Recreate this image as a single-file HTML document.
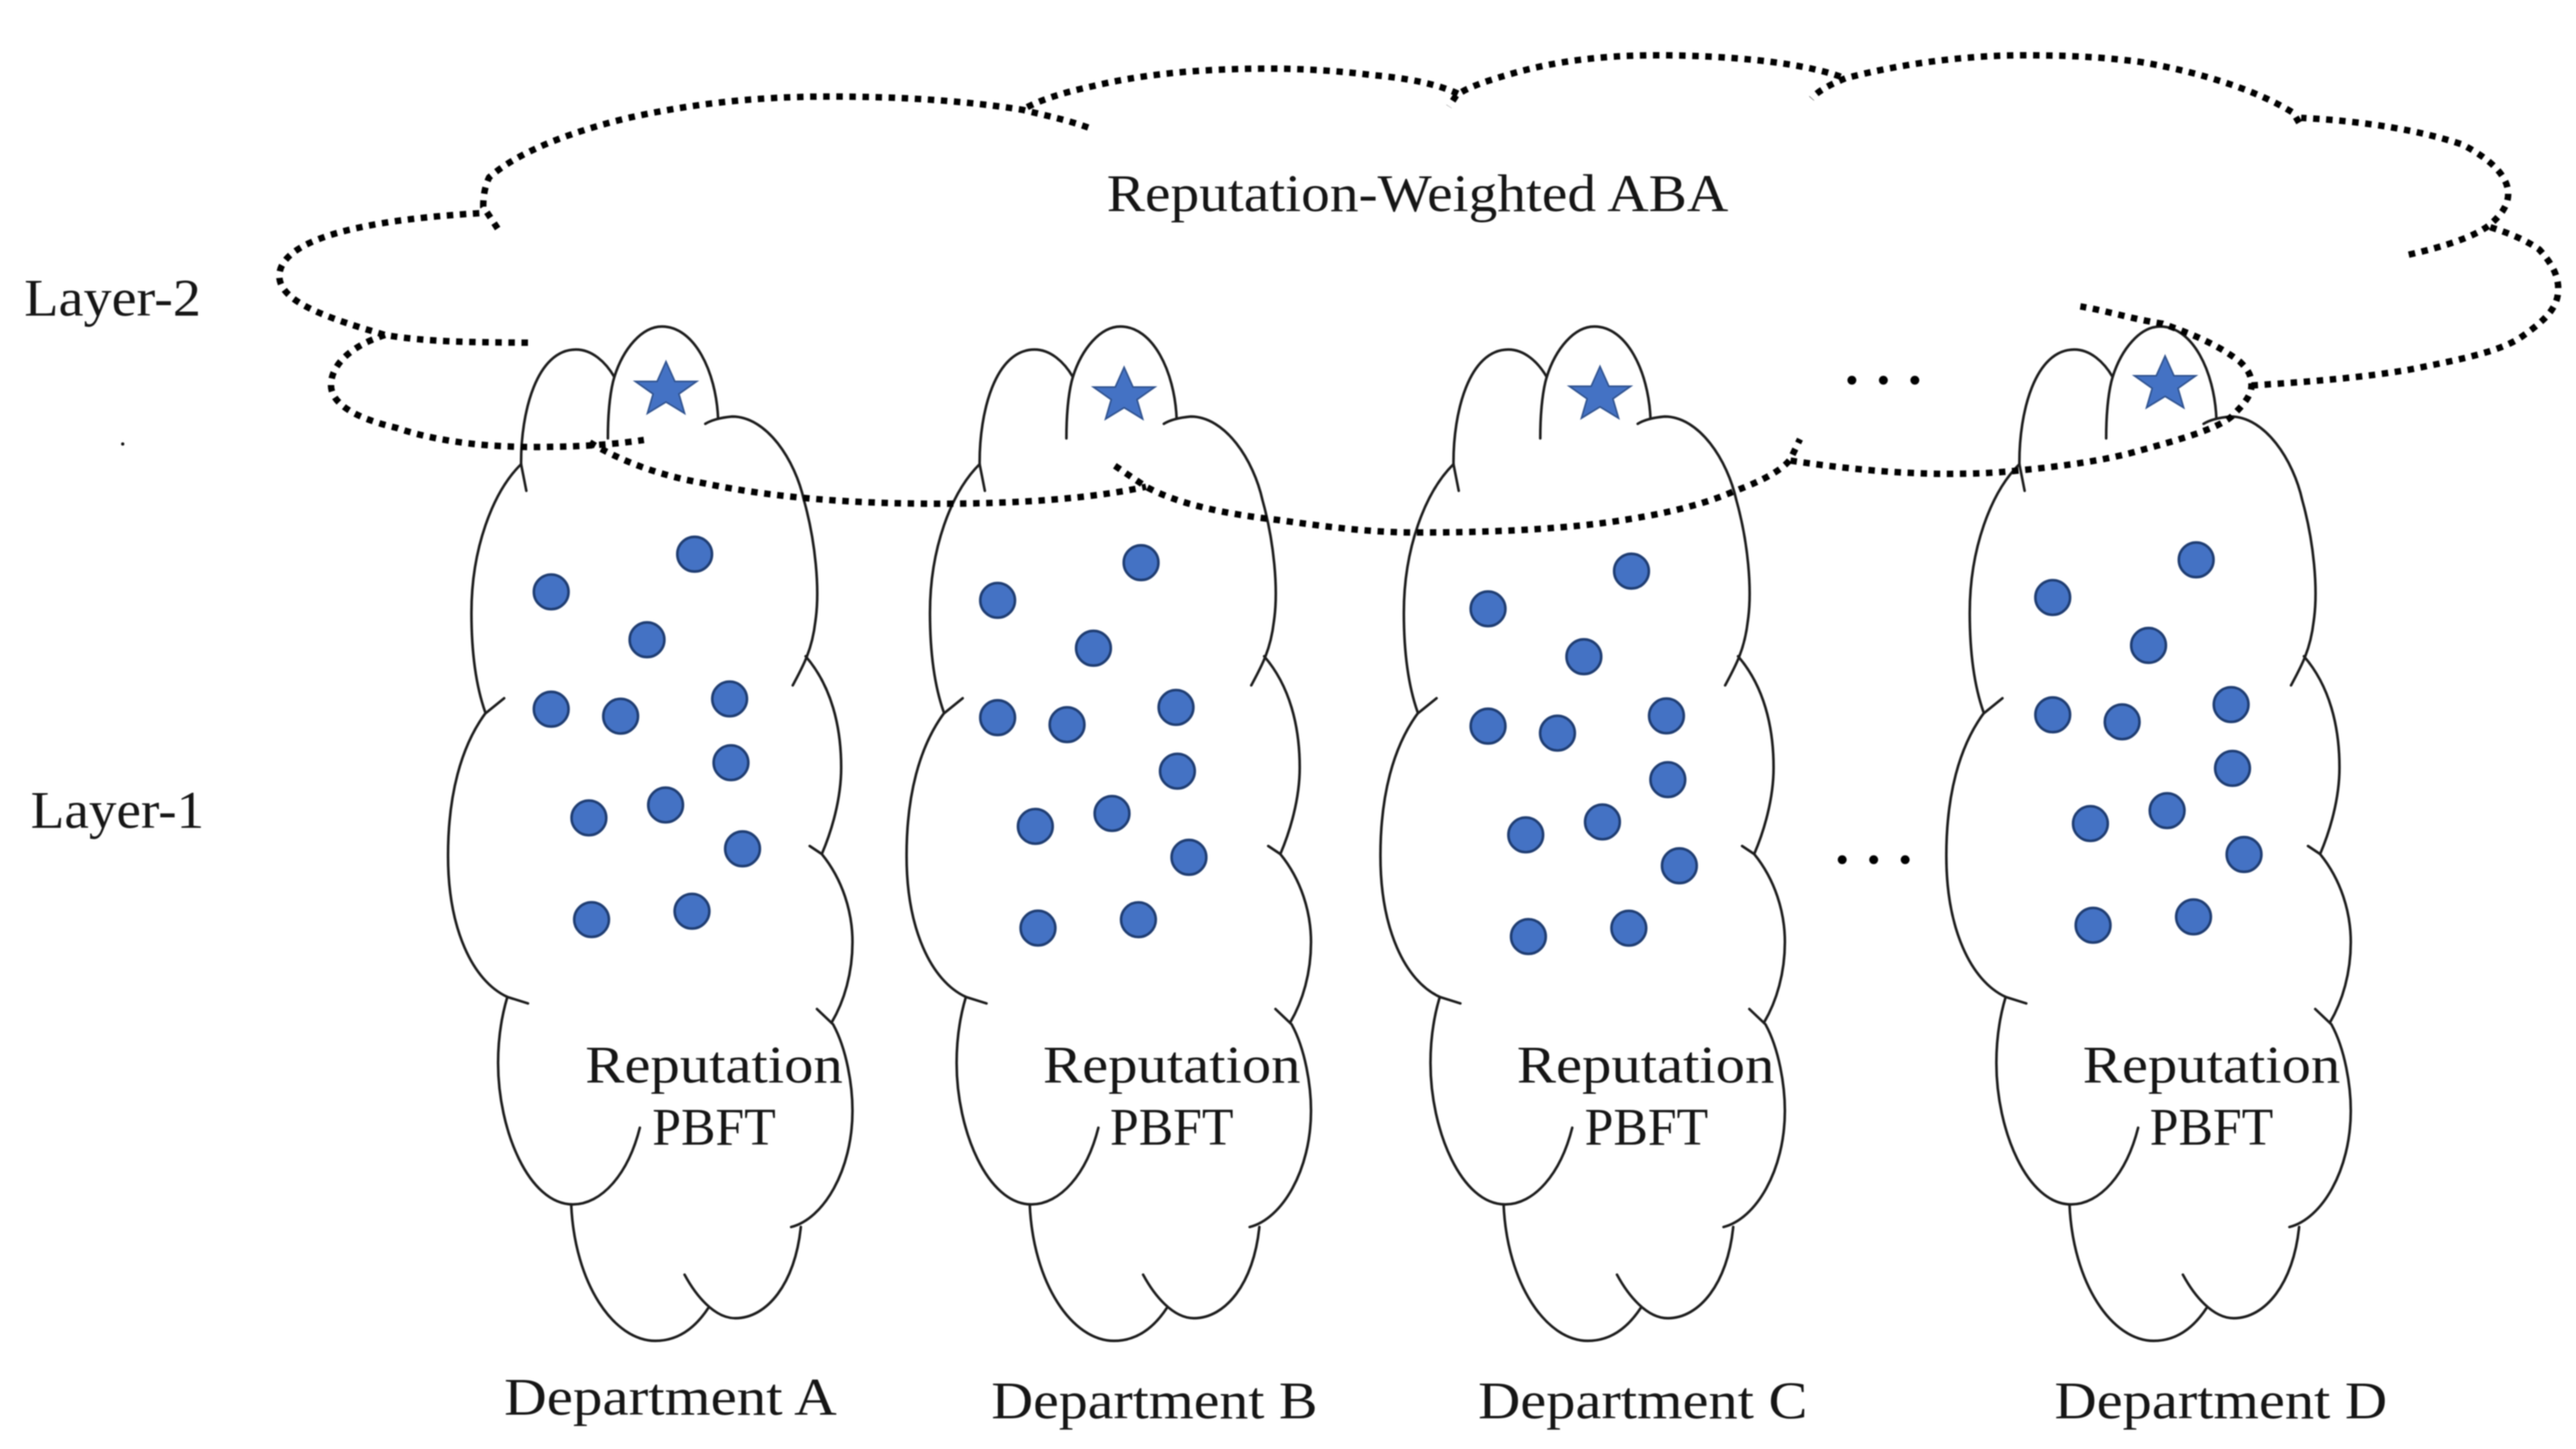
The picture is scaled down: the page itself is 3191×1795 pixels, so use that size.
<!DOCTYPE html>
<html><head><meta charset="utf-8"><style>
html,body{margin:0;padding:0;background:#fff}
svg{display:block;filter:blur(.7px)}
text{font-family:"Liberation Serif",serif;font-size:66px;fill:#151515}
.s{fill:none;stroke:#1c1c1c;stroke-width:3.2;stroke-linecap:round}
.d{fill:none;stroke:#000;stroke-width:8;stroke-dasharray:8 8.2}
.c{fill:#4472c4;stroke:#1f3d72;stroke-width:3.2}
.st{fill:#4472c4;stroke:#2f528f;stroke-width:2}
</style></head><body>
<svg width="3191" height="1795" viewBox="0 0 3191 1795" xmlns="http://www.w3.org/2000/svg">
<defs>
<g id="cloud">
<path class="s" d="M652,608L645.5,575C645,510 665,433 713.5,433C733,433 750,448 761,467"/>
<path class="s" d="M753,543C753,505 757,480 761,467C772,432 795,404.5 820,404.5C860,404.5 887,460 889.5,518"/>
<path class="s" d="M873.7,525Q885,518 907,516C950,516 985,570 996,620C1010,670 1016,730 1010,770C1006,805 995,825 982,849"/>
<path class="s" d="M998,813C1030,850 1042,900 1042,951C1042,990 1030,1030 1018,1058"/>
<path class="s" d="M1003,1048L1018,1058C1044,1090 1056,1130 1056,1167C1056,1205 1046,1240 1030,1267"/>
<path class="s" d="M1012,1250L1032,1269C1049,1300 1056,1345 1056,1376C1056,1450 1020,1510 980,1520"/>
<path class="s" d="M992,1520C985,1590 950,1633 911,1633C885,1633 862,1605 848,1579"/>
<path class="s" d="M877.6,1620C858,1650 835,1661 812,1661C760,1661 712,1590 707.6,1492.7"/>
<path class="s" d="M792.6,1397C778,1455 745,1492 709.6,1492C655,1492 617,1400 617,1317C617,1285 621,1260 628.5,1235"/>
<path class="s" d="M654,1243L628.5,1235C585,1215 555,1150 555,1060C555,985 571,925 601,884L624.5,865"/>
<path class="s" d="M601,882C588,845 584,800 584,759C584,680 610,610 645.5,575"/>
</g>
<g id="dots">
<circle class="c" cx="0" cy="0" r="21.5"/>
<circle class="c" cx="-177.7" cy="46.7" r="21.5"/>
<circle class="c" cx="-59" cy="106" r="21.5"/>
<circle class="c" cx="-177.7" cy="192" r="21.5"/>
<circle class="c" cx="-91.7" cy="200.7" r="21.5"/>
<circle class="c" cx="43.3" cy="179.3" r="21.5"/>
<circle class="c" cx="45" cy="258.3" r="21.5"/>
<circle class="c" cx="-36" cy="310.7" r="21.5"/>
<circle class="c" cx="-131" cy="326.7" r="21.5"/>
<circle class="c" cx="59.3" cy="365" r="21.5"/>
<circle class="c" cx="-127.7" cy="452.7" r="21.5"/>
<circle class="c" cx="-3.3" cy="442.3" r="21.5"/>
</g>
<polygon id="star" class="st" points="0,-33 11,-8.5 38,-8.5 16,7 23,31 0,17 -23,31 -16,7 -38,-8.5 -11,-8.5"/>
</defs>

<use href="#cloud"/>
<use href="#cloud" x="568"/>
<use href="#cloud" x="1155"/>
<use href="#cloud" x="1856"/>

<use href="#dots" x="860.5" y="686.5"/>
<use href="#dots" x="1413.5" y="697"/>
<use href="#dots" x="2021" y="707.5"/>
<use href="#dots" x="2720.5" y="693.5"/>

<use href="#star" x="825" y="481"/>
<use href="#star" x="1392.5" y="488"/>
<use href="#star" x="1982" y="487"/>
<use href="#star" x="2682" y="474"/>

<path class="d" d="M654,424.5C590,424 530,424 477,415C410,395 346,375 346,342C346,310 400,275 596.6,264"/>
<path class="d" d="M477,415C430,430 410,455 410,477C410,500 440,518 491,530C550,550 620,555 683,553.5C725,553 765,550 797.6,545"/>
<path class="d" d="M730.6,548C770,572 820,590 874,599C960,617 1060,624 1161,624C1260,624 1350,618 1419.6,603"/>
<path class="d" d="M1381,577L1419.6,603C1460,625 1520,637 1582,644C1640,652 1690,659 1747.5,659.6C1840,660 1920,656 1985,648C2060,638 2110,625 2147,609C2185,595 2208,582 2218,568.6L2229.7,544"/>
<path class="d" d="M2218,570.6C2280,580 2350,587 2413,587C2445,587 2470,586 2499,583C2560,577 2610,570 2651,558C2710,542 2748,530 2765,515.5C2780,500 2789,490 2789,477C2789,465 2785,458 2774.6,448C2745,425 2710,412 2679,401C2640,395 2610,385 2577,379.6"/>
<path class="d" d="M2789,477.5C2860,473 2925,468 2984,458C3050,445 3100,435 3126,415.5C3155,395 3169,380 3169,358C3169,340 3160,325 3145.4,309C3125,295 3105,288 3083.6,281"/>
<path class="d" d="M2983.8,315.5C3030,305 3065,293 3083.6,279C3100,265 3107,253 3107,240C3107,218 3085,197 3050,179C3000,162 2930,150 2850.6,146"/>
<path class="d" d="M2848,152L2841,140C2800,114 2730,90 2651,76.7C2600,70 2555,68.5 2508,68.5C2430,68.5 2350,80 2286,97C2266,105 2252,113 2244,122"/>
<path class="d" d="M2280,95C2230,77 2140,68.5 2052,68.5C1980,68.5 1925,77 1880.7,89C1845,99 1820,107 1804,118L1795,132"/>
<path class="d" d="M1806,116C1780,104 1745,97 1700,93C1660,88 1615,85 1572.7,85C1480,85 1410,93 1352.6,107C1315,115 1285,125 1266.5,136"/>
<path class="d" d="M1348,158C1320,148 1295,143 1266.5,136C1190,124 1110,119.6 1027,119.6C930,119.6 850,130 778.5,146C700,165 640,190 606,219.6C600,232 598.6,245 598.6,256L617.7,285"/>

<circle cx="2294" cy="471" r="5.5" fill="#000"/><circle cx="2333" cy="471" r="5.5" fill="#000"/><circle cx="2372" cy="471" r="5.5" fill="#000"/>
<circle cx="2282" cy="1065" r="5.5" fill="#000"/><circle cx="2321" cy="1065" r="5.5" fill="#000"/><circle cx="2360" cy="1065" r="5.5" fill="#000"/>
<circle cx="152" cy="550" r="2" fill="#111"/>

<text x="1371" y="261.5" textLength="770" lengthAdjust="spacingAndGlyphs">Reputation-Weighted ABA</text>
<text x="30" y="390.8" textLength="219" lengthAdjust="spacingAndGlyphs">Layer-2</text>
<text x="38" y="1025.5" textLength="215" lengthAdjust="spacingAndGlyphs">Layer-1</text>

<text x="725" y="1341" textLength="319" lengthAdjust="spacingAndGlyphs">Reputation</text>
<text x="1292" y="1341" textLength="319" lengthAdjust="spacingAndGlyphs">Reputation</text>
<text x="1879" y="1341" textLength="319" lengthAdjust="spacingAndGlyphs">Reputation</text>
<text x="2580" y="1341" textLength="319" lengthAdjust="spacingAndGlyphs">Reputation</text>

<text x="808" y="1418" textLength="153" lengthAdjust="spacingAndGlyphs">PBFT</text>
<text x="1375" y="1418" textLength="153" lengthAdjust="spacingAndGlyphs">PBFT</text>
<text x="1963" y="1418" textLength="153" lengthAdjust="spacingAndGlyphs">PBFT</text>
<text x="2663" y="1418" textLength="153" lengthAdjust="spacingAndGlyphs">PBFT</text>

<text x="624.5" y="1752.5" textLength="412" lengthAdjust="spacingAndGlyphs">Department A</text>
<text x="1228" y="1757" textLength="404" lengthAdjust="spacingAndGlyphs">Department B</text>
<text x="1831" y="1757" textLength="408" lengthAdjust="spacingAndGlyphs">Department C</text>
<text x="2545" y="1757" textLength="412" lengthAdjust="spacingAndGlyphs">Department D</text>
</svg>
</body></html>
